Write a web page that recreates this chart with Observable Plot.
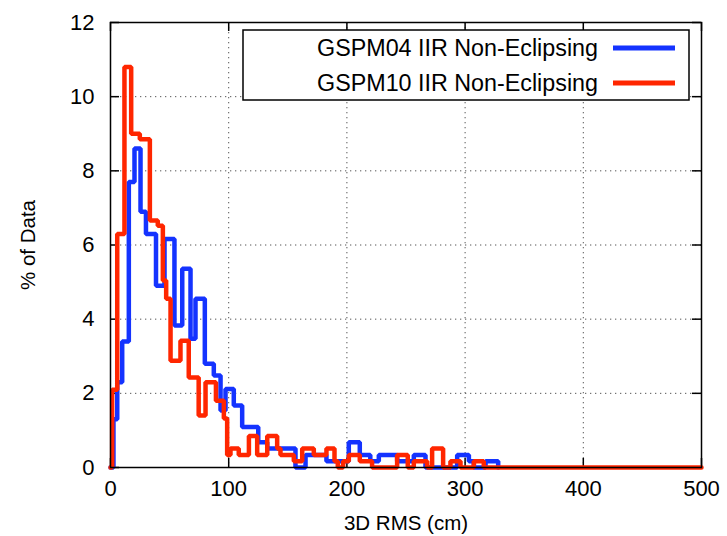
<!DOCTYPE html>
<html><head><meta charset="utf-8">
<script src="https://cdn.jsdelivr.net/npm/d3@7"></script>
<script src="https://cdn.jsdelivr.net/npm/@observablehq/plot@0.6"></script>
<style>
body{margin:0;background:#fff;}
#wrap{position:relative;width:727px;height:536px;font-family:"Liberation Sans",Arial,Helvetica,sans-serif;}
</style></head><body><div id="wrap"></div>
<script>
const seriesNames = ["GSPM04 IIR Non-Eclipsing", "GSPM10 IIR Non-Eclipsing"];
const seriesColors = ["#1433ff", "#ff2600"];
const xTicks = [0, 100, 200, 300, 400, 500];
const yTicks = [0, 2, 4, 6, 8, 10, 12];
const xTitle = "3D RMS (cm)";
const yTitle = "% of Data";

// GSPM04 (blue): bin left edges (cm) and % of data
const blueEdges = [0, 2.5, 5.7, 9.9, 15.5, 20.3, 25.4, 30.0, 38.5, 45.7, 54.1, 60.7, 67.7, 71.9, 79.8, 87.4, 93.1, 97.3, 104.3, 111.4, 125.0, 132.6, 156.5, 165.0, 182.7, 201.6, 210.9, 219.8, 227.0, 242.5, 256.6, 266.5, 293.3, 303.2, 307.4, 317.3, 328];
const bluePct = [0, 1.3, 2.3, 3.4, 7.7, 8.6, 6.9, 6.3, 4.9, 6.16, 3.83, 5.36, 3.47, 4.55, 2.8, 2.48, 1.54, 2.12, 1.67, 1.09, 0.68, 0.51, 0, 0.34, 0.17, 0.68, 0.34, 0.17, 0.34, 0.17, 0.34, 0, 0.34, 0.17, 0, 0.17, 0];

// GSPM10 (red)
const redEdges = [0, 1.4, 5.7, 11.8, 17.5, 24.8, 33.3, 40.0, 44.3, 47.1, 50.8, 59.2, 66.2, 74.6, 80.4, 89.2, 95.9, 98.7, 101.5, 108.5, 117.1, 124.1, 132.6, 141.0, 143.8, 155.1, 162.2, 172.0, 182.7, 189.5, 192.3, 196.8, 201.6, 210.9, 221.3, 242.5, 251.5, 256.6, 267.9, 272.1, 281.4, 287.6, 296.1, 307.4, 315.8, 500];
const redPct = [0, 2.1, 6.3, 10.8, 9.0, 8.85, 6.66, 6.52, 5.04, 4.55, 2.88, 3.42, 2.43, 1.4, 2.3, 1.8, 1.32, 0.34, 0.51, 0.34, 0.85, 0.34, 0.85, 0.51, 0.34, 0.17, 0.51, 0.34, 0.51, 0.17, 0, 0.17, 0.34, 0.17, 0, 0.34, 0, 0.17, 0, 0.51, 0, 0.17, 0, 0.17, 0, 0];

const W = 727, H = 536, mL = 110, mR = 26, mT = 22, mB = 69;
const pw = W - mL - mR, ph = H - mT - mB, tk = 9;

const blue = blueEdges.map((x, i) => ({x, y: bluePct[i]}));
const red = redEdges.map((x, i) => ({x, y: redPct[i]}));

const grid = {stroke: "#555", strokeOpacity: 1, strokeWidth: 1, strokeDasharray: "1.3,3.7"};
const tickStyle = {stroke: "#000", strokeWidth: 1.5};

const chart = Plot.plot({
  width: W, height: H,
  marginLeft: mL, marginRight: mR, marginTop: mT, marginBottom: mB,
  style: {fontFamily: "'Liberation Sans', Arial, sans-serif", fontSize: "22px", color: "#000", background: "#fff", overflow: "visible"},
  x: {domain: [0, 500], label: null},
  y: {domain: [0, 12], label: null},
  marks: [
    Plot.gridX(xTicks, grid),
    Plot.gridY(yTicks, grid),
    Plot.ruleX(xTicks, {x: d => d, insetTop: ph - tk, ...tickStyle}),
    Plot.ruleX(xTicks, {x: d => d, insetBottom: ph - tk, ...tickStyle}),
    Plot.ruleY(yTicks, {y: d => d, insetRight: pw - tk, ...tickStyle}),
    Plot.ruleY(yTicks, {y: d => d, insetLeft: pw - tk, ...tickStyle}),
    Plot.axisX(xTicks, {tickSize: 0, tickPadding: 13, fontSize: 22, label: null}),
    Plot.axisY(yTicks, {tickSize: 0, tickPadding: 16, fontSize: 22, label: null}),
    Plot.text([xTitle], {frameAnchor: "bottom", dy: 56, lineAnchor: "middle", textAnchor: "middle", fontSize: 20.5}),
    Plot.text([yTitle], {frameAnchor: "left", dx: -82, rotate: -90, lineAnchor: "middle", textAnchor: "middle", fontSize: 20.5}),
    Plot.line(blue, {x: "x", y: "y", curve: "step-after", stroke: seriesColors[0], strokeWidth: 4.5, strokeLinejoin: "miter"}),
    Plot.line(red, {x: "x", y: "y", curve: "step-after", stroke: seriesColors[1], strokeWidth: 4.5, strokeLinejoin: "miter"}),
    Plot.frame({stroke: "#000", strokeWidth: 1.5})
  ]
});
const wrap = document.getElementById("wrap");
wrap.appendChild(chart);

// legend box overlay
const lx = 242, ly = 29;
const leg = d3.create("svg").attr("width", 448).attr("height", 73)
  .style("position", "absolute").style("left", lx + "px").style("top", ly + "px");
leg.append("rect").attr("x", 1).attr("y", 1).attr("width", 446).attr("height", 70)
  .attr("fill", "#fff").attr("stroke", "#000").attr("stroke-width", 1.5);
seriesNames.forEach((n, i) => {
  const cy = 48 - ly + i * 35;
  leg.append("text").attr("x", 598 - lx).attr("y", cy).attr("dy", "0.35em")
    .attr("text-anchor", "end").attr("font-size", 23.3)
    .attr("font-family", "'Liberation Sans', Arial, sans-serif").text(n);
  leg.append("line").attr("x1", 613 - lx).attr("x2", 675 - lx).attr("y1", cy).attr("y2", cy)
    .attr("stroke", seriesColors[i]).attr("stroke-width", 5);
});
wrap.appendChild(leg.node());
</script></body></html>
